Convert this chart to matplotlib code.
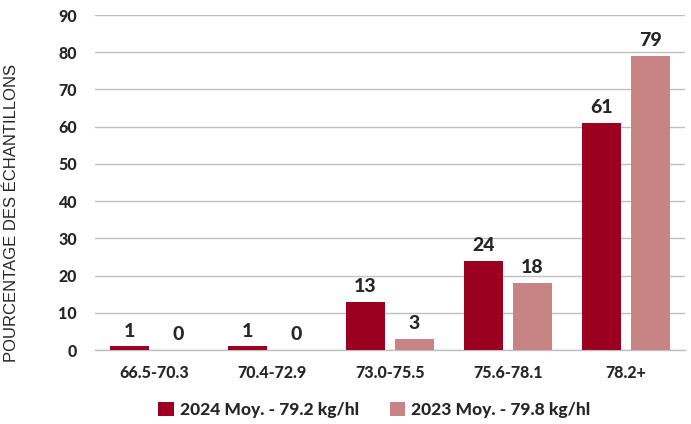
import matplotlib
matplotlib.use("Agg")
import matplotlib.pyplot as plt
import numpy as np

categories = ["66.5-70.3", "70.4-72.9", "73.0-75.5", "75.6-78.1", "78.2+"]
values_2024 = [1, 1, 13, 24, 61]
values_2023 = [0, 0, 3, 18, 79]
series_labels = ["2024 Moy. - 79.2 kg/hl", "2023 Moy. - 79.8 kg/hl"]
y_ticks = [0, 10, 20, 30, 40, 50, 60, 70, 80, 90]

color_2024 = "#9C0021"
color_2023 = "#C88485"
text_color = "#262626"

plt.rcParams["font.family"] = ["Lato", "DejaVu Sans"]
bold = 900

fig = plt.figure(figsize=(6.91, 4.24), dpi=100)
ax = fig.add_axes([0.1375, 0.1745, 0.8538, 0.7901])

x = np.arange(len(categories))
width = 0.33
offset = 0.2076

b1 = ax.bar(x - offset, values_2024, width, color=color_2024, label=series_labels[0], zorder=3)
b2 = ax.bar(x + offset, values_2023, width, color=color_2023, label=series_labels[1], zorder=3)

for bars, vals in ((b1, values_2024), (b2, values_2023)):
    for rect, v in zip(bars, vals):
        ax.text(rect.get_x() + rect.get_width() / 2, v + 1.8, f"{v}",
                ha="center", va="bottom", fontsize=14, fontweight=bold,
                color=text_color)

ax.set_xlim(-0.5, len(categories) - 0.5)
ax.set_ylim(0, 90)
ax.set_yticks(y_ticks)
ax.set_xticks(x)
ax.set_xticklabels(categories)
ax.tick_params(axis="both", length=0, labelsize=11.5, labelcolor=text_color)
ax.tick_params(axis="y", pad=13)
ax.tick_params(axis="x", pad=11)
for lbl in ax.get_xticklabels() + ax.get_yticklabels():
    lbl.set_fontweight(bold)

ax.grid(axis="y", color="#BFBFBF", linewidth=1.0, zorder=0)
for s in ("top", "right", "left"):
    ax.spines[s].set_visible(False)
ax.spines["bottom"].set_color("#BFBFBF")
ax.spines["bottom"].set_linewidth(1.0)

ax.set_ylabel("POURCENTAGE DES ÉCHANTILLONS", fontsize=12, color=text_color,
              family=["Liberation Sans", "DejaVu Sans"])
ax.yaxis.set_label_coords(-0.129, 0.41)

leg = fig.legend(handles=[b1, b2], labels=series_labels, loc="center",
                 bbox_to_anchor=(0.542, 0.033), ncol=2, frameon=False,
                 handlelength=0.9, handleheight=0.9, handletextpad=0.35,
                 columnspacing=1.75, prop={"size": 12.5, "weight": bold})
for t in leg.get_texts():
    t.set_color(text_color)

fig.savefig("out.png", dpi=100)
